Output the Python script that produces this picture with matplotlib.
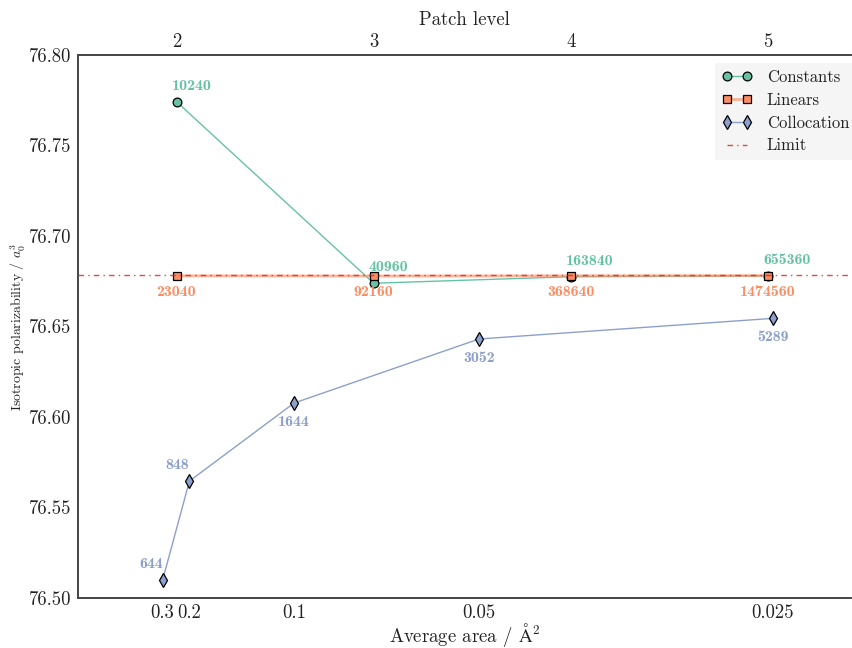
import matplotlib
matplotlib.use("Agg")
import matplotlib.pyplot as plt
from matplotlib.ticker import FormatStrFormatter

plt.rcParams['font.family'] = ['cmr10', 'DejaVu Serif']
plt.rcParams['mathtext.fontset'] = 'cm'
plt.rcParams['axes.formatter.use_mathtext'] = True

# ---- data ----
levels = [2, 3, 4, 5]
constants_vals = [76.7742, 76.6739, 76.6775, 76.6780]
constants_n = ["10240", "40960", "163840", "655360"]
linears_vals = [76.6780, 76.6779, 76.6780, 76.6781]
linears_n = ["23040", "92160", "368640", "1474560"]
colloc_n = [644, 848, 1644, 3052, 5289]
colloc_vals = [76.5099, 76.5646, 76.6077, 76.6431, 76.6545]
area_labels = ["0.3", "0.2", "0.1", "0.05", "0.025"]
limit_val = 76.6785
yticks = [76.50, 76.55, 76.60, 76.65, 76.70, 76.75, 76.80]

c_green = '#66c2a5'
c_orange = '#fc8d62'
c_blue = '#8da0cb'
c_red = '#e0282a'
spine_c = '#444444'
text_c = '#222222'
ann_fs = 11.5

fig = plt.figure(figsize=(8.52, 6.48), dpi=100)
ax = fig.add_axes([78/852, 1-598/648, 773/852, 543/648])
ax.set_xlim(0, 5883)
ax.set_ylim(76.50, 76.80)
ax2 = ax.twiny()
ax2.set_xlim(1.5, 5.422)
ax2.set_ylim(76.50, 76.80)

for a in (ax, ax2):
    for s in a.spines.values():
        s.set_color(spine_c)
        s.set_linewidth(1.2)
    a.spines['right'].set_visible(False)

# Collocation on bottom axis (x = number of points)
lc, = ax.plot(colloc_n, colloc_vals, color=c_blue, lw=1.0, marker='d', ms=7.5,
              mfc=c_blue, mec='k', mew=0.9, label='Collocation', zorder=3)
for i, (n, v) in enumerate(zip(colloc_n, colloc_vals)):
    if i < 2:
        ax.annotate(str(n), (n, v), xytext=(0, 11.5), textcoords='offset points',
                    ha='right', va='center', color=c_blue, fontsize=ann_fs, family='cmb10')
    else:
        ax.annotate(str(n), (n, v), xytext=(0, -13.5), textcoords='offset points',
                    ha='center', va='center', color=c_blue, fontsize=ann_fs, family='cmb10')

# Constants and linears on top axis (x = patch level)
lcon, = ax2.plot(levels, constants_vals, color=c_green, lw=1.0, marker='o', ms=6.3,
                 mfc=c_green, mec='k', mew=0.9, label='Constants', zorder=3)
llin, = ax2.plot(levels, linears_vals, color=(0.988, 0.553, 0.384, 0.65), lw=2.0,
                 marker='s', ms=6.0, mfc=c_orange, mec='k', mew=0.9,
                 label='Linears', zorder=4)
llim = ax2.axhline(limit_val, color=c_red, lw=1.0, ls=(0, (4, 3, 1, 3)),
                   alpha=0.85, label='Limit', zorder=5)
for L, v, t in zip(levels, constants_vals, constants_n):
    ax2.annotate(t, (L, v), xytext=(-3.5, 11.5), textcoords='offset points',
                 ha='left', va='center', color=c_green, fontsize=ann_fs, family='cmb10')
for L, v, t in zip(levels, linears_vals, linears_n):
    ax2.annotate(t, (L, v), xytext=(0, -11.5), textcoords='offset points',
                 ha='center', va='center', color=c_orange, fontsize=ann_fs, family='cmb10')

# ticks
ax.set_xticks(colloc_n)
ax.set_xticklabels(area_labels)
ax.set_yticks(yticks)
ax.yaxis.set_major_formatter(FormatStrFormatter('%.2f'))
ax2.set_xticks(levels)
ax2.set_xticklabels([str(l) for l in levels])
ax.tick_params(axis='both', length=0, labelsize=13.5, colors=text_c, pad=4.5)
ax2.tick_params(axis='x', length=0, labelsize=13.5, colors=text_c, pad=3)
ax2.tick_params(axis='y', left=False, right=False, labelleft=False, labelright=False)

ax.set_xlabel(r'Average area / $\mathrm{\AA}^2$', fontsize=13.5, color=text_c, labelpad=-1)
ax2.set_xlabel('Patch level', fontsize=13.5, color=text_c, labelpad=6)
ax.set_ylabel(r'Isotropic polarizability / $a_0^3$', fontsize=10, color=text_c, labelpad=1)

leg = ax2.legend(handles=[lcon, llin, lc, llim], loc='upper left',
                 bbox_to_anchor=((715-78)/773, (598-63)/543), borderaxespad=0,
                 fontsize=12, numpoints=2, frameon=True, fancybox=False,
                 handlelength=1.8, handletextpad=0.9, labelspacing=0.45)
leg.get_frame().set_facecolor('#f5f5f5')
leg.get_frame().set_edgecolor('none')
leg.get_frame().set_alpha(1.0)
for t in leg.get_texts():
    t.set_color(text_c)

fig.savefig('out.png', dpi=100)
